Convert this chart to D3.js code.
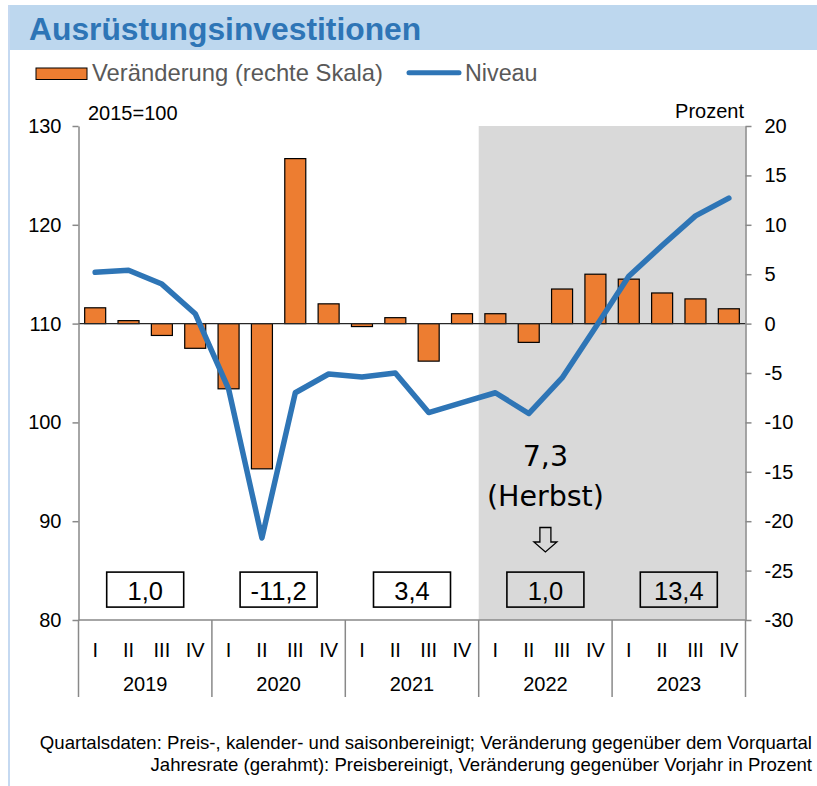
<!DOCTYPE html>
<html>
<head>
<meta charset="utf-8">
<script src="https://cdn.jsdelivr.net/npm/d3@7"></script>
<style>
  html, body { margin: 0; padding: 0; background: #ffffff; }
  svg { display: block; }
  text { font-family: "Liberation Sans", Arial, sans-serif; }
</style>
</head>
<body>
<svg id="chart" width="817" height="786"></svg>
<script>
// ---------------- data ----------------
const quarterLabels = ["I", "II", "III", "IV"];
const yearLabels = ["2019", "2020", "2021", "2022", "2023"];
// Veränderung gegenüber Vorquartal, Prozent (rechte Skala)
const changePct = [1.6, 0.3, -1.2, -2.5,  -6.6, -14.7, 16.7, 2.0,  -0.3, 0.6, -3.8, 1.0,  1.0, -1.9, 3.5, 5.0,  4.5, 3.1, 2.5, 1.5];
// Niveau, 2015=100 (linke Skala)
const levelIndex = [115.2, 115.4, 114.0, 111.0,  103.4, 88.3, 103.0, 104.9,  104.6, 105.0, 101.0, 102.0,  103.0, 100.9, 104.5, 109.6,  114.8, 117.9, 120.9, 122.7];
// Jahresraten (gerahmt)
const annualRate = [1.0, -11.2, 3.4, 1.0, 13.4];
const leftTicks = [80, 90, 100, 110, 120, 130];
const rightTicks = [-30, -25, -20, -15, -10, -5, 0, 5, 10, 15, 20];
const forecastStartYear = "2022";
const herbstLabel = ["7,3", "(Herbst)"];

// ---------------- setup ----------------
const W = 817, H = 786;
const plot = { left: 78.5, right: 745.5, top: 126, bottom: 620 };
const svg = d3.select("#chart");

const idx = d3.range(changePct.length);
const pad = 0.37;
const x = d3.scaleBand().domain(idx).range([plot.left, plot.right]).paddingInner(pad).paddingOuter(pad / 2);
const step = x.step();
const cx = i => x(i) + x.bandwidth() / 2;
const slotLeft = i => x(i) - step * pad / 2;
const yL = d3.scaleLinear().domain([80, 130]).range([plot.bottom, plot.top]);
const yR = d3.scaleLinear().domain([-30, 20]).range([plot.bottom, plot.top]);

const fmt = v => d3.format(".1f")(v).replace(".", ",").replace("−", "-");

// ---------------- frame & title ----------------
svg.append("rect").attr("x", 0).attr("y", 0).attr("width", W).attr("height", H).attr("fill", "#fff");
svg.append("rect").attr("x", 8).attr("y", 5).attr("width", W - 8).attr("height", 45).attr("fill", "#BDD7EE");
svg.append("line").attr("x1", 9).attr("x2", 9).attr("y1", 5).attr("y2", H).attr("stroke", "#C5D9F1").attr("stroke-width", 2);
svg.append("text").attr("x", 29).attr("y", 39.5)
  .attr("font-size", 31.8).attr("font-weight", "bold").attr("fill", "#2E75B6")
  .text("Ausrüstungsinvestitionen");

// ---------------- legend ----------------
svg.append("rect").attr("x", 36).attr("y", 68).attr("width", 51).attr("height", 11.5)
  .attr("fill", "#ED7D31").attr("stroke", "#000").attr("stroke-width", 1);
svg.append("text").attr("x", 92).attr("y", 81).attr("font-size", 23.8).attr("fill", "#595959")
  .text("Veränderung (rechte Skala)");
svg.append("line").attr("x1", 409).attr("x2", 459).attr("y1", 72.7).attr("y2", 72.7)
  .attr("stroke", "#2E75B6").attr("stroke-width", 5).attr("stroke-linecap", "round");
svg.append("text").attr("x", 465).attr("y", 81).attr("font-size", 23.3).attr("fill", "#595959")
  .text("Niveau");

// ---------------- forecast shading ----------------
const fStart = yearLabels.indexOf(forecastStartYear) * 4;
svg.append("rect")
  .attr("x", slotLeft(fStart)).attr("y", plot.top)
  .attr("width", plot.right - slotLeft(fStart)).attr("height", plot.bottom - plot.top)
  .attr("fill", "#D9D9D9");

// ---------------- bars ----------------
svg.append("g").selectAll("rect").data(changePct).join("rect")
  .attr("x", (d, i) => x(i))
  .attr("y", d => yR(Math.max(0, d)))
  .attr("width", x.bandwidth())
  .attr("height", d => Math.abs(yR(d) - yR(0)))
  .attr("fill", "#ED7D31").attr("stroke", "#000").attr("stroke-width", 1.2);

// zero line
svg.append("line").attr("x1", plot.left).attr("x2", plot.right)
  .attr("y1", yR(0)).attr("y2", yR(0)).attr("stroke", "#262626").attr("stroke-width", 1.3);

// ---------------- line ----------------
svg.append("path").datum(levelIndex)
  .attr("d", d3.line().x((d, i) => cx(i)).y(d => yL(d)))
  .attr("fill", "none").attr("stroke", "#2E75B6").attr("stroke-width", 5.5)
  .attr("stroke-linejoin", "round").attr("stroke-linecap", "round");

// ---------------- axes ----------------
const axisColor = "#898989";
const gL = svg.append("g").attr("transform", `translate(${plot.left},0)`)
  .call(d3.axisLeft(yL).tickValues(leftTicks).tickSize(6).tickSizeOuter(0).tickPadding(11).tickFormat(d => String(d)));
const gR = svg.append("g").attr("transform", `translate(${plot.right},0)`)
  .call(d3.axisRight(yR).tickValues(rightTicks).tickSize(6).tickSizeOuter(0).tickPadding(13).tickFormat(d => String(d)));
[gL, gR].forEach(g => {
  g.select(".domain").attr("stroke", axisColor).attr("stroke-width", 1.5);
  g.selectAll(".tick line").attr("stroke", axisColor).attr("stroke-width", 1.5);
  g.selectAll(".tick text").attr("font-size", 20).attr("fill", "#000");
});

// bottom category axis
svg.append("line").attr("x1", plot.left).attr("x2", plot.right)
  .attr("y1", plot.bottom).attr("y2", plot.bottom).attr("stroke", axisColor).attr("stroke-width", 1.5);
const sepIdx = d3.range(0, changePct.length + 1, 4);
svg.append("g").selectAll("line").data(sepIdx).join("line")
  .attr("x1", k => k < changePct.length ? slotLeft(k) : plot.right)
  .attr("x2", k => k < changePct.length ? slotLeft(k) : plot.right)
  .attr("y1", plot.bottom).attr("y2", 697)
  .attr("stroke", axisColor).attr("stroke-width", 1.5);
svg.append("g").selectAll("text").data(idx).join("text")
  .attr("x", i => cx(i)).attr("y", 657).attr("text-anchor", "middle")
  .attr("font-size", 20).attr("fill", "#000")
  .text(i => quarterLabels[i % 4]);
const yearCenter = k => (slotLeft(k * 4) + (k * 4 + 4 < changePct.length ? slotLeft(k * 4 + 4) : plot.right)) / 2;
svg.append("g").selectAll("text").data(yearLabels).join("text")
  .attr("x", (d, k) => yearCenter(k)).attr("y", 691).attr("text-anchor", "middle")
  .attr("font-size", 20).attr("fill", "#000")
  .text(d => d);

// ---------------- annual rate boxes ----------------
const boxTop = yR(-25) + 1.5, boxW = 77, boxH = 35;
const boxes = svg.append("g").selectAll("g").data(annualRate).join("g");
boxes.append("rect")
  .attr("x", (d, k) => yearCenter(k) - boxW / 2).attr("y", boxTop)
  .attr("width", boxW).attr("height", boxH)
  .attr("fill", "none").attr("stroke", "#000").attr("stroke-width", 1.6);
boxes.append("text")
  .attr("x", (d, k) => yearCenter(k)).attr("y", boxTop + 27.5)
  .attr("text-anchor", "middle").attr("font-size", 25.5).attr("fill", "#000")
  .text(d => fmt(d));

// ---------------- Herbst annotation ----------------
const hk = yearLabels.indexOf("2022");
const hx = yearCenter(hk);
svg.append("text").attr("x", hx).attr("y", 466).attr("text-anchor", "middle")
  .style("font-family", "'DejaVu Sans', sans-serif").attr("font-size", 28.5).attr("fill", "#000")
  .text(herbstLabel[0]);
svg.append("text").attr("x", hx).attr("y", 506).attr("text-anchor", "middle")
  .style("font-family", "'DejaVu Sans', sans-serif").attr("font-size", 28.5).attr("fill", "#000")
  .text(herbstLabel[1]);
const aTop = 527.5, sw = 5.5, hw = 11.5, sb = 542, tip = 552;
svg.append("path")
  .attr("d", `M${hx - sw},${aTop} L${hx + sw},${aTop} L${hx + sw},${sb} L${hx + hw},${sb} L${hx},${tip} L${hx - hw},${sb} L${hx - sw},${sb} Z`)
  .attr("fill", "none").attr("stroke", "#000").attr("stroke-width", 1.3).attr("stroke-linejoin", "miter");

// ---------------- unit labels ----------------
svg.append("text").attr("x", 88).attr("y", 120).attr("font-size", 20).attr("fill", "#000").text("2015=100");
svg.append("text").attr("x", 744).attr("y", 118).attr("text-anchor", "end").attr("font-size", 20).attr("fill", "#000").text("Prozent");

// ---------------- footnote ----------------
svg.append("text").attr("x", 812).attr("y", 749).attr("text-anchor", "end").attr("font-size", 18.6).attr("fill", "#000")
  .text("Quartalsdaten: Preis-, kalender- und saisonbereinigt; Veränderung gegenüber dem Vorquartal");
svg.append("text").attr("x", 812).attr("y", 771).attr("text-anchor", "end").attr("font-size", 18.6).attr("fill", "#000")
  .text("Jahresrate (gerahmt): Preisbereinigt, Veränderung gegenüber Vorjahr in Prozent");
</script>
</body>
</html>
